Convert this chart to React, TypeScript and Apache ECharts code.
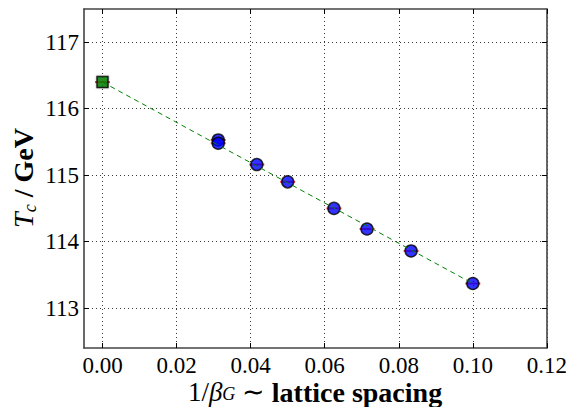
import React, { useEffect, useRef } from "react";
import * as echarts from "echarts";

// Lattice data: 1/beta_G and T_c (GeV)
const invBeta = [0.03125, 0.03125, 0.041667, 0.05, 0.0625, 0.071429, 0.083333, 0.1];
const tcValues = [115.53, 115.48, 115.16, 114.9, 114.5, 114.19, 113.86, 113.37];
// Continuum extrapolation
const extrapX = [0];
const extrapTc = [116.4];
// Linear fit line end points
const fitX = [0, 0.1];
const fitTc = [116.4, 113.37];
// Tick values
const xTicks = [0, 0.02, 0.04, 0.06, 0.08, 0.1, 0.12];
const yTicks = [113, 114, 115, 116, 117];

const SERIF = "Liberation Serif";

export default function App() {
  const ref = useRef<HTMLDivElement>(null);
  useEffect(() => {
    if (!ref.current) return;
    const chart = echarts.init(ref.current, undefined, { renderer: "svg" });
    const points = invBeta.map((x, i) => [x, tcValues[i]]);
    const extrap = extrapX.map((x, i) => [x, extrapTc[i]]);
    const fit = fitX.map((x, i) => [x, fitTc[i]]);
    const frameLine = { show: true, lineStyle: { color: "#444", width: 1.6 } };
    const grid = { show: true, lineStyle: { color: "#222", type: [1, 3] as any, width: 0.9 } };
    const tickLabel = {
      fontFamily: SERIF,
      fontSize: 23,
      fontWeight: "normal",
      color: "#000",
    };
    chart.setOption({
      animation: false,
      backgroundColor: "#fff",
      grid: { left: 84, top: 9, width: 463, height: 339, containLabel: false },
      xAxis: [
        {
          type: "value",
          position: "bottom",
          min: -0.005,
          max: 0.12,
          axisLine: { ...frameLine, onZero: false },
          axisTick: { show: true, inside: true, length: 5, customValues: xTicks, lineStyle: { color: "#000" } },
          axisLabel: {
            customValues: xTicks,
            formatter: (v: number) => v.toFixed(2),
            ...tickLabel,
            lineHeight: 19,
            margin: 8,
          },
          splitLine: grid,
        },
        {
          type: "value",
          position: "top",
          min: -0.005,
          max: 0.12,
          axisLine: { ...frameLine, onZero: false },
          axisTick: { show: true, inside: true, length: 5, customValues: xTicks, lineStyle: { color: "#000" } },
          axisLabel: { show: false },
          splitLine: { show: false },
        },
      ],
      yAxis: [
        {
          type: "value",
          position: "left",
          min: 112.4,
          max: 117.5,
          axisLine: { ...frameLine, onZero: false },
          axisTick: { show: true, inside: true, length: 5, customValues: yTicks, lineStyle: { color: "#000" } },
          axisLabel: {
            customValues: yTicks,
            formatter: (v: number) => String(Math.round(v)),
            ...tickLabel,
            margin: 5,
          },
          splitLine: grid,
        },
        {
          type: "value",
          position: "right",
          min: 112.4,
          max: 117.5,
          axisLine: { ...frameLine, onZero: false },
          axisTick: { show: true, inside: true, length: 5, customValues: yTicks, lineStyle: { color: "#000" } },
          axisLabel: { show: false },
          splitLine: { show: false },
        },
      ],
      series: [
        {
          type: "scatter",
          data: [...points, ...extrap],
          symbol: "rect",
          symbolSize: [15, 2],
          itemStyle: { color: "#ff0000" },
          z: 2,
        },
        {
          type: "scatter",
          data: points,
          symbol: "circle",
          symbolSize: 12,
          itemStyle: { color: "#0000ff", borderColor: "#000", borderWidth: 1.5 },
          z: 3,
        },
        {
          type: "scatter",
          data: extrap,
          symbol: "rect",
          symbolSize: 11,
          itemStyle: {
            color: "#008000",
            borderColor: "#000",
            borderWidth: 1.5,
            shadowColor: "rgba(0,0,0,0.35)",
            shadowBlur: 2,
          },
          z: 3,
        },
        {
          type: "line",
          data: fit,
          showSymbol: false,
          symbol: "none",
          lineStyle: { color: "#008000", width: 1, type: [5, 4] as any },
          z: 4,
        },
      ],
      graphic: [
        {
          type: "text",
          x: 23,
          y: 178,
          rotation: Math.PI / 2,
          style: {
            text: "{i|T}{s|c}{b| / GeV}",
            align: "center",
            verticalAlign: "middle",
            fill: "#000",
            rich: {
              i: { fontFamily: SERIF, fontStyle: "italic", fontSize: 28, lineHeight: 32 },
              s: { fontFamily: SERIF, fontStyle: "italic", fontSize: 18, lineHeight: 18, verticalAlign: "bottom" },
              b: { fontFamily: SERIF, fontWeight: "bold", fontSize: 28, lineHeight: 32 },
            },
          },
        },
        {
          type: "text",
          x: 315,
          y: 392,
          style: {
            text: "{r|1/}{i|β}{s|G}{r| ∼ }{b|lattice spacing}",
            align: "center",
            verticalAlign: "middle",
            fill: "#000",
            rich: {
              r: { fontFamily: SERIF, fontSize: 27, lineHeight: 22 },
              i: { fontFamily: SERIF, fontStyle: "italic", fontSize: 27, lineHeight: 22 },
              s: { fontFamily: SERIF, fontStyle: "italic", fontSize: 18, lineHeight: 12, verticalAlign: "bottom" },
              b: { fontFamily: SERIF, fontWeight: "bold", fontSize: 28, lineHeight: 22 },
            },
          },
        },
      ],
    });
    return () => chart.dispose();
  }, []);
  return (
    <div
      ref={ref}
      style={{ position: "absolute", left: 0, top: 0, width: 570, height: 407, background: "#fff" }}
    />
  );
}
